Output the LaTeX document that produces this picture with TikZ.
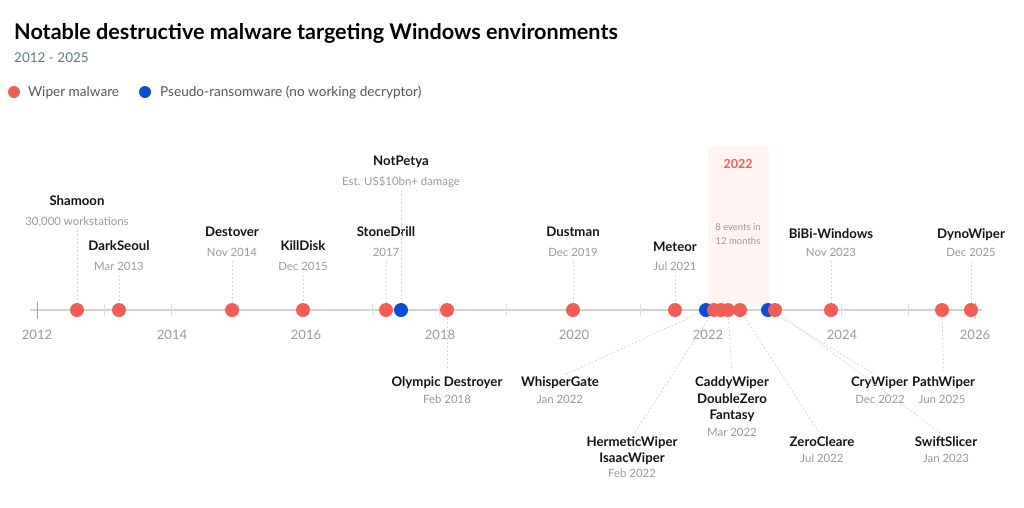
\documentclass[tikz,border=0pt]{standalone}
\usepackage{fontspec}
\setmainfont{Lato}
\definecolor{wred}{HTML}{F45D56}
\definecolor{pblue}{HTML}{0A4FD1}
\definecolor{subgray}{HTML}{9A9A9A}
\definecolor{subtitlec}{HTML}{5B7A8E}
\definecolor{legc}{HTML}{555555}
\definecolor{axisc}{HTML}{D2D2D2}
\definecolor{tickc}{HTML}{DEDEDE}
\definecolor{endtick}{HTML}{A0A0A0}
\definecolor{leaderc}{HTML}{D6D6D6}
\definecolor{bandc}{HTML}{FFF4F2}
\begin{document}
\begin{tikzpicture}[x=1pt,y=-1pt,
  nm/.style={font=\bfseries\fontsize{13.2}{16}\selectfont, text=black!92, text height=9.5pt, text depth=0pt, inner sep=0pt},
  sb/.style={font=\fontsize{11.4}{13}\selectfont, text=subgray, text height=8.1pt, text depth=0pt, inner sep=0pt},
  yr/.style={font=\fontsize{13}{15}\selectfont, text=subgray, text height=9.3pt, text depth=0pt, inner sep=0pt},
  wdot/.style={circle, fill=wred, minimum size=14pt, inner sep=0pt},
  bdot/.style={circle, fill=pblue, minimum size=14pt, inner sep=0pt},
  ldot/.style={circle, minimum size=12pt, inner sep=0pt},
  leader/.style={draw=leaderc, line width=0.8pt, dash pattern=on 2pt off 2pt},
  legtext/.style={font=\fontsize{13.6}{16}\selectfont, text=legc, anchor=west, inner sep=0pt, text height=9.7pt, text depth=0pt}
]
\useasboundingbox (0,0) rectangle (1024,507);
\fill[white] (0,0) rectangle (1024,507);

% title and legend
\node[anchor=west, inner sep=0pt, font=\bfseries\fontsize{21.6}{25}\selectfont, text height=15pt, text depth=0pt] (title) at (14,32) {Notable destructive malware targeting Windows environments};
\node[anchor=west, inner sep=0pt, font=\fontsize{13.5}{16}\selectfont, text=subtitlec, text height=9.7pt, text depth=0pt] (subtitle) at (14,58) {2012 - 2025};
\node[ldot, fill=wred] (legw) at (14,92) {};
\node[legtext] (legwt) at (28,92) {Wiper malware};
\node[ldot, fill=pblue] (legp) at (145,92) {};
\node[legtext] (legpt) at (160,92) {Pseudo-ransomware (no working decryptor)};

% 2022 band
\node[fill=bandc, rounded corners=5pt, minimum width=61pt, minimum height=160pt, inner sep=0pt] (band) at (738.5,226) {};
\node[inner sep=0pt, font=\bfseries\fontsize{12.5}{14}\selectfont, text=wred, text height=9pt, text depth=0pt] (bandyear) at (738,164) {2022};
\node[inner sep=0pt, font=\fontsize{9.5}{11}\selectfont, text=subgray, text height=7pt, text depth=0pt] (bandtxt1) at (738,227) {8 events in};
\node[inner sep=0pt, font=\fontsize{9.5}{11}\selectfont, text=subgray, text height=7pt, text depth=0pt] (bandtxt2) at (738,241) {12 months};

% axis
\coordinate (axisL) at (30,310);
\coordinate (axisR) at (982,310);
\draw[axisc, line width=1.6pt] (axisL) -- (axisR);
\foreach \i in {1,...,13} {
  \draw[tickc, line width=0.9pt] ({37+67*\i},304) -- ({37+67*\i},316);
}
\draw[endtick, line width=0.9pt] (37,302) -- (37,319);
\draw[endtick!60, line width=0.9pt] (975,302) -- (975,319);
\foreach \y/\x in {2012/37,2014/172,2016/306,2018/440,2020/574,2022/708,2024/842,2026/975} {
  \node[yr] (yr\y) at (\x,335) {\y};
}

% dot positions
\coordinate (p-shamoon) at (77,310);
\coordinate (p-darkseoul) at (119,310);
\coordinate (p-destover) at (232,310);
\coordinate (p-killdisk) at (303,310);
\coordinate (p-stonedrill) at (386,310);
\coordinate (p-notpetya) at (401,310);
\coordinate (p-olympic) at (447,310);
\coordinate (p-dustman) at (573,310);
\coordinate (p-meteor) at (675,310);
\coordinate (p-whisper) at (706,310);
\coordinate (p-hermetic) at (714,310);
\coordinate (p-isaac) at (721,310);
\coordinate (p-caddy) at (728,310);
\coordinate (p-zero) at (740,310);
\coordinate (p-cry) at (768,310);
\coordinate (p-swift) at (775,310);
\coordinate (p-bibi) at (831,310);
\coordinate (p-path) at (942,310);
\coordinate (p-dyno) at (971,310);

% labels above
\node[nm] (shamoonN) at (77,201) {Shamoon};
\node[sb] (shamoonS) at (77,221) {30,000 workstations};
\node[nm] (darkseoulN) at (119,246) {DarkSeoul};
\node[sb] (darkseoulS) at (119,266) {Mar 2013};
\node[nm] (destoverN) at (232,232) {Destover};
\node[sb] (destoverS) at (232,252) {Nov 2014};
\node[nm] (killdiskN) at (303,246) {KillDisk};
\node[sb] (killdiskS) at (303,266) {Dec 2015};
\node[nm] (stonedrillN) at (386,232) {StoneDrill};
\node[sb] (stonedrillS) at (386,252) {2017};
\node[nm] (notpetyaN) at (401,161) {NotPetya};
\node[sb] (notpetyaS) at (401,181) {Est. US\$10bn+ damage};
\node[nm] (dustmanN) at (573,232) {Dustman};
\node[sb] (dustmanS) at (573,252) {Dec 2019};
\node[nm] (meteorN) at (675,247) {Meteor};
\node[sb] (meteorS) at (675,266) {Jul 2021};
\node[nm] (bibiN) at (831,234) {BiBi-Windows};
\node[sb] (bibiS) at (831,252) {Nov 2023};
\node[nm] (dynoN) at (971,234) {DynoWiper};
\node[sb] (dynoS) at (971,252) {Dec 2025};

% labels below
\node[nm] (olympicN) at (447,382) {Olympic Destroyer};
\node[sb] (olympicS) at (447,399) {Feb 2018};
\node[nm] (whisperN) at (560,382) {WhisperGate};
\node[sb] (whisperS) at (560,399) {Jan 2022};
\node[nm] (hermeticN) at (632,442) {HermeticWiper};
\node[nm] (isaacN) at (632,458) {IsaacWiper};
\node[sb] (hermeticS) at (632,473) {Feb 2022};
\node[nm] (caddyN) at (732,382) {CaddyWiper};
\node[nm] (doublezeroN) at (732,398.5) {DoubleZero};
\node[nm] (fantasyN) at (732,415) {Fantasy};
\node[sb] (caddyS) at (732,432) {Mar 2022};
\node[nm] (zeroN) at (822,442) {ZeroCleare};
\node[sb] (zeroS) at (822,458) {Jul 2022};
\node[nm] (cryN) at (879.5,382) {CryWiper};
\node[sb] (cryS) at (880,399) {Dec 2022};
\node[nm] (pathN) at (943.5,382) {PathWiper};
\node[sb] (pathS) at (942,399) {Jun 2025};
\node[nm] (swiftN) at (946,442) {SwiftSlicer};
\node[sb] (swiftS) at (946,458) {Jan 2023};

% leaders above
\foreach \n in {shamoon,darkseoul,destover,killdisk,stonedrill,notpetya,dustman,meteor,bibi,dyno} {
  \draw[leader, shorten <=5pt] (\n S.south) -- (p-\n);
}
% leaders below
\draw[leader, shorten >=6pt] (p-olympic) -- (olympicN.north);
\draw[leader, shorten >=6pt] (p-whisper) -- (whisperN.north);
\draw[leader, shorten >=6pt] (p-hermetic) -- (hermeticN.north);
\draw[leader, shorten >=6pt] (p-caddy) -- (caddyN.north);
\draw[leader, shorten >=6pt] (p-zero) -- (zeroN.north);
\draw[leader, shorten >=6pt] (p-cry) -- (cryN.north);
\draw[leader, shorten >=6pt] (p-path) -- (pathN.north);
\draw[leader, shorten >=6pt] (p-swift) -- (swiftN.north);

% dots
\node[wdot] (shamoon) at (p-shamoon) {};
\node[wdot] (darkseoul) at (p-darkseoul) {};
\node[wdot] (destover) at (p-destover) {};
\node[wdot] (killdisk) at (p-killdisk) {};
\node[wdot] (stonedrill) at (p-stonedrill) {};
\node[bdot] (notpetya) at (p-notpetya) {};
\node[wdot] (olympic) at (p-olympic) {};
\node[wdot] (dustman) at (p-dustman) {};
\node[wdot] (meteor) at (p-meteor) {};
\node[bdot] (whisper) at (p-whisper) {};
\node[wdot] (hermetic) at (p-hermetic) {};
\node[wdot] (isaac) at (p-isaac) {};
\node[wdot] (caddy) at (p-caddy) {};
\node[wdot] (zero) at (p-zero) {};
\node[bdot] (cry) at (p-cry) {};
\node[wdot] (swift) at (p-swift) {};
\node[wdot] (bibi) at (p-bibi) {};
\node[wdot] (path) at (p-path) {};
\node[wdot] (dyno) at (p-dyno) {};
\end{tikzpicture}
\end{document}
